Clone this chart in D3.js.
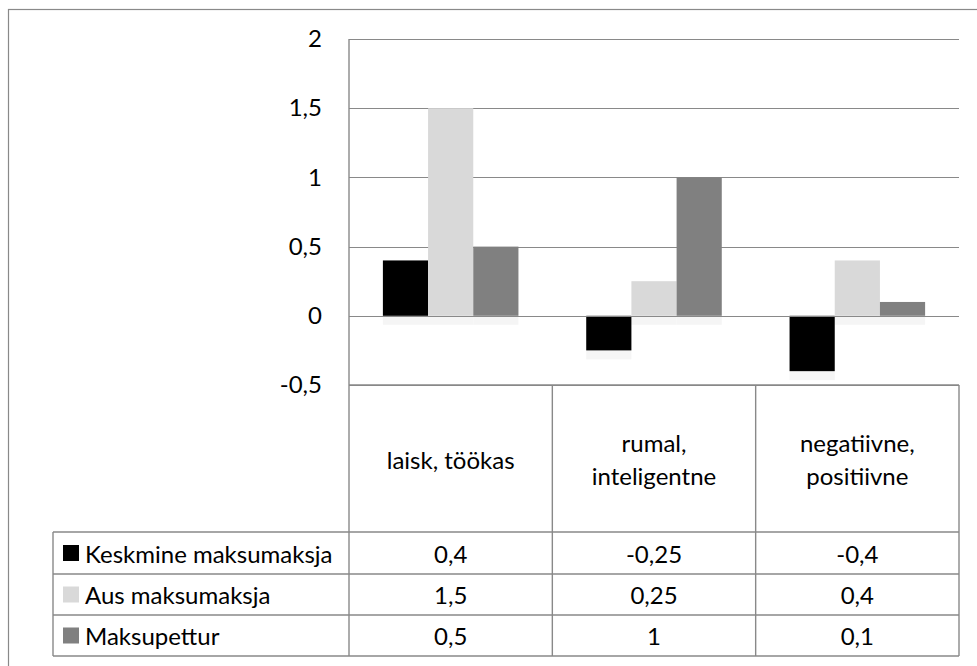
<!DOCTYPE html>
<html>
<head>
<meta charset="utf-8">
<script src="https://cdn.jsdelivr.net/npm/d3@7"></script>
<style>
  html, body { margin: 0; padding: 0; background: #ffffff; }
  svg { display: block; }
  text { font-family: "Lato", "Open Sans", sans-serif; fill: #000; }
</style>
</head>
<body>
<svg id="chart" width="977" height="666"></svg>
<script>
// Categories (two-line labels) and the three series
const categories = [["laisk, töökas"], ["rumal,", "inteligentne"], ["negatiivne,", "positiivne"]];
const seriesNames = ["Keskmine maksumaksja", "Aus maksumaksja", "Maksupettur"];
const keskmine = [0.4, -0.25, -0.4];
const aus = [1.5, 0.25, 0.4];
const maksupettur = [0.5, 1, 0.1];
const seriesColors = ["#000000", "#d9d9d9", "#808080"];
const yTicks = [-0.5, 0, 0.5, 1, 1.5, 2];

const series = [keskmine, aus, maksupettur];
const fmt = v => String(v).replace(".", ",");

const svg = d3.select("#chart");
const lineColor = "#898989";
const fontSize = 24;

// Outer chart border
svg.append("rect")
  .attr("x", 8.5).attr("y", 9.5).attr("width", 1000).attr("height", 700)
  .attr("fill", "none").attr("stroke", lineColor).attr("stroke-width", 1.2);

const plotLeft = 349, plotRight = 959, plotTop = 39, plotBottom = 385;
const y = d3.scaleLinear().domain([-0.5, 2]).range([plotBottom, plotTop]);
const x0 = d3.scaleBand().domain(d3.range(categories.length)).range([plotLeft, plotRight])
  .paddingInner(1 / 3).paddingOuter(1 / 6);
const x1 = d3.scaleBand().domain(d3.range(series.length)).range([0, x0.bandwidth()]);
const step = x0.step();
const colEdge = i => plotLeft + i * step;

// Horizontal gridlines
svg.append("g").selectAll("line").data(yTicks).join("line")
  .attr("x1", plotLeft).attr("x2", plotRight)
  .attr("y1", d => Math.round(y(d)) + 0.5).attr("y2", d => Math.round(y(d)) + 0.5)
  .attr("stroke", lineColor).attr("stroke-width", 1.2);

// Y tick labels
const yAxis = d3.axisLeft(y).tickValues(yTicks).tickFormat(fmt).tickSize(0).tickPadding(0);
const ya = svg.append("g").attr("transform", `translate(322,0)`).call(yAxis);
ya.select(".domain").remove();
ya.selectAll("text").attr("font-size", fontSize).attr("font-family", "Lato, 'Open Sans', sans-serif").attr("fill", "#000");

// Faint shadow strip below each bar, then the bars
const bars = svg.append("g");
series.forEach((vals, s) => {
  bars.selectAll(null).data(vals).join("rect")
    .attr("x", (d, i) => x0(i) + x1(s))
    .attr("y", d => Math.max(y(d), y(0)))
    .attr("width", x1.bandwidth())
    .attr("height", 9)
    .attr("fill", "#f5f5f5");
});
series.forEach((vals, s) => {
  bars.selectAll(null).data(vals).join("rect")
    .attr("x", (d, i) => x0(i) + x1(s))
    .attr("y", d => Math.min(y(d), y(0)))
    .attr("width", x1.bandwidth())
    .attr("height", d => Math.abs(y(d) - y(0)))
    .attr("fill", seriesColors[s]);
});

// Zero line redrawn over bars
svg.append("line").attr("x1", plotLeft).attr("x2", plotRight)
  .attr("y1", Math.round(y(0)) + 0.5).attr("y2", Math.round(y(0)) + 0.5)
  .attr("stroke", lineColor).attr("stroke-width", 1.2);

// Data table
const rowTops = [532, 574, 615, 656];
const keyLeft = 53;
const tbl = svg.append("g").attr("stroke", lineColor).attr("stroke-width", 1.4).attr("fill", "none");
// value axis line runs from the top of the plot to the bottom of the table
tbl.append("line").attr("x1", plotLeft).attr("x2", plotLeft).attr("y1", plotTop).attr("y2", rowTops[3]);
d3.range(1, categories.length + 1).forEach(i => {
  tbl.append("line").attr("x1", colEdge(i)).attr("x2", colEdge(i))
    .attr("y1", plotBottom).attr("y2", rowTops[3]);
});
tbl.append("line").attr("x1", plotLeft).attr("x2", plotRight).attr("y1", plotBottom).attr("y2", plotBottom);
rowTops.forEach(r => {
  tbl.append("line").attr("x1", keyLeft).attr("x2", plotRight).attr("y1", r).attr("y2", r);
});
tbl.append("line").attr("x1", keyLeft).attr("x2", keyLeft).attr("y1", rowTops[0]).attr("y2", rowTops[3]);

// Category header labels
categories.forEach((lines, i) => {
  const cx = colEdge(i) + step / 2;
  const cy = 459;
  const lh = 33;
  lines.forEach((t, j) => {
    svg.append("text").attr("x", cx)
      .attr("y", cy + (j - (lines.length - 1) / 2) * lh)
      .attr("text-anchor", "middle").attr("dominant-baseline", "central")
      .attr("font-size", fontSize).text(t);
  });
});

// Row labels with legend keys and values
series.forEach((vals, s) => {
  const cy = (rowTops[s] + rowTops[s + 1]) / 2;
  svg.append("rect").attr("x", 63).attr("y", cy - 8).attr("width", 16).attr("height", 16)
    .attr("fill", seriesColors[s]);
  svg.append("text").attr("x", 85).attr("y", cy).attr("dominant-baseline", "central")
    .attr("font-size", fontSize).text(seriesNames[s]);
  vals.forEach((v, i) => {
    svg.append("text").attr("x", colEdge(i) + step / 2).attr("y", cy)
      .attr("text-anchor", "middle").attr("dominant-baseline", "central")
      .attr("font-size", fontSize).text(fmt(v));
  });
});
</script>
</body>
</html>
